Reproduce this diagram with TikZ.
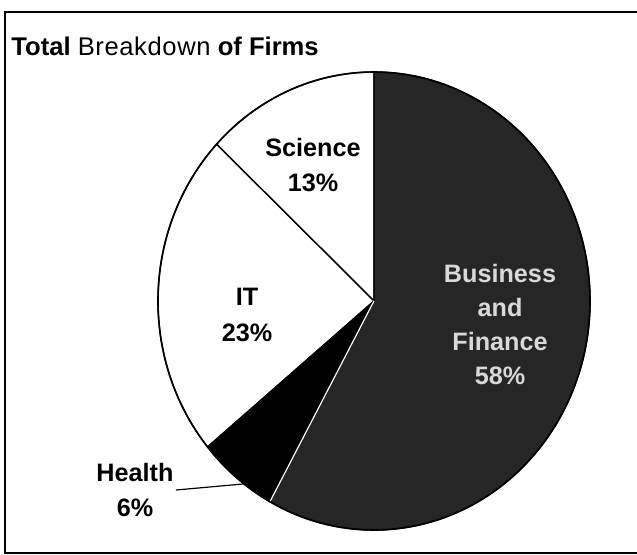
\documentclass[tikz,border=0pt]{standalone}
\usepackage{fontspec}
\setmainfont{Liberation Sans}
\usetikzlibrary{calc}

\begin{document}
\begin{tikzpicture}[x=0.5pt, y=0.5pt]
    \tikzstyle{every node}=[inner sep=1pt, align=center, font=\bfseries\fontsize{12.6}{17.8}\selectfont]
    \tikzstyle{slice}=[draw=black, line width=0.7pt]
    \tikzstyle{darklabel}=[text=black!15]
    \useasboundingbox (0,0) rectangle (637,554);
    \fill[white] (0,0) rectangle (637,554);
    \draw[line width=0.8pt] (5,1) rectangle (650,542);
    \node[anchor=west, inner sep=0pt, font=\fontsize{12.8}{14}\selectfont] (title) at (11,508) {\textbf{Total} B\kern0.3pt r\kern0.3pt e\kern0.3pt a\kern0.3pt k\kern0.3pt d\kern0.3pt o\kern0.3pt w\kern0.3pt n \textbf{of Firms}};
    \coordinate (c) at (374,253);
    % slices, angles from the percentages
    \foreach \a/\b/\col in {90/136.8/white, 136.8/219.6/white, 219.6/241.2/black, 241.2/450/black!85}
        \filldraw[slice, fill=\col] (c) -- ++(\a:108pt and 114.5pt) arc[start angle=\a, end angle=\b, x radius=108pt, y radius=114.5pt] -- cycle;
    \coordinate (hb) at ($(c)+(241.2:108pt and 114.5pt)$);
    \draw[white, line width=0.6pt] (c) -- (hb);
    \draw[line width=0.8pt] (c) ellipse [x radius=108pt, y radius=114.5pt];
    \node (sci) at (313,389) {Science\\13\%};
    \node (it) at (247,239) {IT\\23\%};
    \node[darklabel, font=\bfseries\fontsize{12.6}{17}\selectfont] (bus) at (500,230) {Business\\and\\Finance\\58\%};
    \node (hlth) at (135,64) {Health\\6\%};
    \coordinate (hpt) at (243,70);
    \draw[line width=0.6pt] (hlth.east) -- (hpt);
\end{tikzpicture}
\end{document}
